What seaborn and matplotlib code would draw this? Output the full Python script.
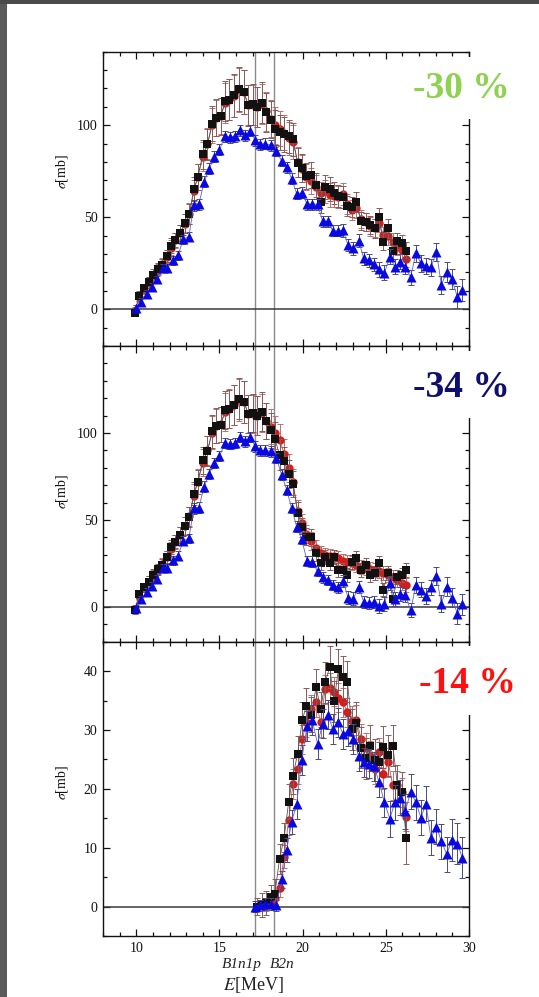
import numpy as np
import pandas as pd
import matplotlib
matplotlib.use("Agg")
import matplotlib.pyplot as plt
import seaborn as sns
from matplotlib.patches import Rectangle
from matplotlib.ticker import MultipleLocator, FixedLocator

sns.set_theme(style="white")
plt.rcParams["font.family"] = ["Liberation Serif", "DejaVu Serif"]
plt.rcParams["mathtext.fontset"] = "stix"

# ---------------- data ----------------
# energy grid of the measured (squares / circles) and calculated (triangles) points, MeV
E_blk = [9.92, 10.18, 10.46, 10.75, 10.99, 11.29, 11.55, 11.83, 12.07, 12.35,
         12.63, 12.93, 13.19, 13.46, 13.70, 14.00, 14.28, 14.56, 14.78, 15.08,
         15.34, 15.60, 15.90, 16.19, 16.47, 16.73, 17.02, 17.27, 17.53, 17.80,
         18.07, 18.33, 18.61, 18.89, 19.16, 19.42, 19.70, 19.98, 20.22, 20.52,
         20.81, 21.08, 21.35, 21.63, 21.89, 22.15, 22.43, 22.69, 22.98, 23.23,
         23.52, 23.78, 24.06, 24.32, 24.58, 24.84, 25.14, 25.42, 25.70, 25.96, 26.23]
E_blu = [9.98, 10.28, 10.66, 10.96, 11.27, 11.59, 11.87, 12.19, 12.51, 12.83,
         13.16, 13.46, 13.76, 14.08, 14.38, 14.70, 15.00, 15.34, 15.64, 15.95,
         16.25, 16.55, 16.85, 17.15, 17.45, 17.75, 18.10, 18.42, 18.74, 19.04,
         19.34, 19.64, 19.94, 20.27, 20.57, 20.90, 21.20, 21.51, 21.81, 22.13,
         22.43, 22.73, 23.05, 23.37, 23.67, 24.00, 24.30, 24.60, 24.92, 25.24,
         25.54, 25.87, 26.17, 26.49, 26.81, 27.11, 27.41, 27.71, 28.04, 28.34,
         28.66, 28.96, 29.30, 29.60]

# panel 1: total photoneutron cross section
blk_1 = [-1.8, 7.2, 11.4, 14.6, 18.6, 21.9, 24.0, 28.9, 34.5, 37.6,
         41.5, 46.6, 51.7, 65.2, 71.9, 84.2, 89.6, 100.9, 104.1, 104.8,
         113.1, 113.9, 116.2, 119.8, 118.0, 110.8, 111.3, 110.0, 112.3, 107.0,
         103.0, 98.2, 96.3, 95.0, 94.1, 92.4, 79.7, 76.8, 72.3, 72.8,
         67.4, 58.4, 66.5, 65.6, 63.2, 61.4, 61.1, 56.2, 55.6, 58.4,
         48.0, 47.5, 45.7, 43.9, 50.2, 36.7, 43.9, 31.8, 37.0, 36.1, 31.8]
red_1 = [-1.0, 6.5, 11.0, 14.5, 18.0, 21.5, 24.5, 28.5, 33.5, 37.5,
         41.5, 46.5, 52.0, 64.0, 72.0, 83.0, 90.0, 100.0, 104.0, 105.0,
         112.0, 114.0, 116.0, 119.0, 118.0, 111.0, 111.0, 110.0, 111.5, 107.5,
         103.6, 100.0, 98.2, 96.0, 93.0, 90.9, 80.0, 76.5, 72.0, 69.8,
         66.5, 63.0, 64.0, 62.0, 61.5, 61.0, 62.5, 57.0, 53.8, 55.0,
         49.0, 47.5, 45.0, 44.0, 47.0, 40.3, 40.0, 36.7, 34.0, 32.0, 27.3]
blu_1 = [0.5, 4.1, 8.3, 12.3, 16.3, 22.6, 22.6, 26.7, 29.4, 38.1,
         39.4, 56.6, 57.1, 69.2, 76.5, 82.8, 86.8, 94.1, 93.6, 94.1,
         97.4, 94.5, 97.0, 91.8, 89.8, 90.0, 89.1, 86.1, 80.6, 77.3,
         71.0, 62.9, 63.2, 57.1, 57.1, 57.1, 47.9, 47.9, 42.6, 42.6,
         43.0, 34.9, 33.1, 37.2, 27.7, 26.7, 24.5, 21.7, 19.8, 28.5,
         23.1, 25.8, 23.1, 17.4, 30.4, 24.9, 23.5, 22.8, 31.2, 13.2,
         20.4, 16.4, 6.8, 10.5]

# panel 2: (g,1n) cross section
blk_2 = [-1.8, 7.2, 11.4, 14.6, 18.6, 21.9, 24.0, 28.9, 34.5, 37.6,
         41.5, 46.6, 51.7, 65.2, 71.9, 84.2, 89.6, 100.9, 104.1, 104.8,
         113.1, 113.9, 116.2, 119.8, 118.0, 110.8, 111.3, 110.0, 112.3, 106.8,
         101.6, 96.6, 87.5, 83.7, 76.6, 70.8, 54.2, 45.8, 40.4, 40.0,
         30.8, 25.4, 28.9, 25.0, 28.5, 21.2, 21.2, 18.3, 26.0, 27.9,
         21.2, 24.1, 18.3, 19.3, 25.0, 10.0, 19.3, 4.8, 17.0, 18.3, 21.2]
red_2 = [-1.0, 6.5, 11.0, 14.5, 18.0, 21.5, 24.5, 28.5, 33.5, 37.5,
         41.5, 46.5, 52.0, 64.0, 72.0, 83.0, 90.0, 100.0, 104.0, 105.0,
         112.0, 114.0, 116.0, 119.0, 118.0, 111.0, 111.0, 110.0, 111.5, 107.0,
         103.5, 100.0, 96.2, 88.0, 79.9, 71.6, 55.4, 48.1, 42.0, 38.0,
         33.7, 31.0, 29.8, 29.5, 29.0, 28.0, 26.5, 26.0, 25.0, 24.0,
         23.1, 22.5, 21.8, 21.2, 20.5, 19.3, 18.5, 17.0, 15.5, 14.0, 12.5]
blu_2 = [-0.9, 4.3, 8.7, 12.3, 16.3, 22.6, 22.6, 26.7, 29.4, 38.1,
         39.4, 56.6, 57.1, 69.2, 76.5, 82.8, 86.8, 94.1, 93.6, 94.1,
         97.7, 95.2, 97.7, 92.3, 90.0, 90.0, 89.4, 85.6, 76.0, 67.3,
         56.8, 46.2, 38.9, 26.5, 26.0, 20.5, 17.0, 15.4, 12.5, 11.2,
         15.0, 5.4, 4.8, 11.5, 2.9, 2.3, 2.9, 0.6, 1.6, 13.5,
         4.8, 7.3, 6.7, -1.9, 12.5, 10.0, 6.2, 11.2, 17.7, 1.9,
         11.5, 5.4, -3.8, 1.6]

# panel 3: (g,2n) cross section
E_blk_3 = E_blk[27:]
E_red_3 = E_blk[29:]
E_blu_3 = E_blu[23:]
blk_3 = [0.0, 0.3, 0.6, 1.7, 2.1, 8.1, 11.7, 17.8, 22.2, 26.0,
         31.7, 34.1, 32.6, 37.3, 33.5, 38.1, 40.7, 34.9, 40.3, 39.0,
         38.2, 30.1, 31.2, 27.0, 25.2, 27.3, 24.9, 24.5, 27.1, 25.7,
         27.3, 20.6, 19.4, 11.7]
red_3 = [0.2, 0.8, 1.5, 3.2, 8.5, 14.7, 20.8, 23.4, 28.4, 31.3,
         33.5, 34.7, 31.3, 36.9, 37.2, 36.5, 35.5, 34.7, 33.0, 31.5,
         31.7, 28.5, 27.0, 25.6, 23.4, 26.2, 22.5, 24.5, 20.6, 20.6,
         19.4, 15.3]
blu_3 = [0.0, 0.2, 0.4, 0.4, 0.2, 4.6, 9.6, 14.4, 17.4, 24.9,
         30.7, 31.7, 27.6, 31.1, 32.6, 30.2, 31.3, 29.3, 29.8, 28.5,
         25.5, 24.5, 24.3, 23.8, 21.1, 17.7, 14.9, 17.7, 18.5, 16.2,
         19.5, 17.7, 15.1, 17.5, 11.7, 13.6, 11.1, 8.9, 11.3, 10.7, 8.3]

# uncertainties
err_blk_1 = [2, 2.5, 2.5, 3, 3, 3, 3.5, 3.5, 4, 4,
             4.5, 5, 5.5, 6.5, 7, 8, 8.5, 9.5, 10, 10,
             11, 11, 11.5, 12, 12, 11, 11, 11, 11, 10.5,
             10, 10, 9.5, 9.5, 9, 9, 8, 7.5, 7, 7,
             6.5, 6, 6.5, 6.5, 6, 6, 6, 5.5, 5.5, 5.5,
             5, 5, 5, 5, 5, 4.5, 5, 4.5, 4.5, 4.5, 4.5]
err_blk_2 = [2, 2.5, 2.5, 3, 3, 3, 3.5, 3.5, 4, 4,
             4.5, 5, 5.5, 6.5, 7, 8, 8.5, 9.5, 10, 10,
             11, 11, 11.5, 12, 12, 11, 11, 11, 11, 10.5,
             10, 9.5, 9, 8.5, 8, 7.5, 6, 5.5, 5, 5,
             4.5, 4, 4, 4, 4, 4, 4, 4, 4, 4,
             4, 4, 4, 4, 4, 4, 4, 4, 4, 4, 4]
err_blu = [2, 2, 2, 2, 2, 2, 2, 2.5, 2.5, 2.5,
           2.5, 3, 3, 3, 3, 3, 3, 3, 3, 3,
           3, 3, 3, 3, 3, 3, 3, 3, 3, 3,
           3, 3, 3, 3, 3, 3, 3, 3, 3, 3,
           3.5, 3.5, 3.5, 3.5, 3.5, 3.5, 3.5, 4, 4, 4,
           4, 4, 4, 4, 4.5, 4.5, 4.5, 4.5, 5, 5,
           5.5, 5.5, 6, 6]
err_blk_3 = [1.5, 2, 2, 2, 2.5, 2.5, 2.5, 3, 3, 3,
             3, 3, 3, 3, 3, 3.5, 3.5, 3.5, 3.5, 3.5,
             3.5, 3.5, 3.5, 3.5, 3.5, 3.5, 3.5, 3.5, 3.5, 3.5,
             3.5, 3.5, 3.5, 4.5]
err_red_3 = [1, 1, 1, 1.5, 2, 2.5, 2.5, 2.5, 2.5, 2.5,
             2.5, 2.5, 2.5, 2.5, 2.5, 2.5, 2.5, 2.5, 2.5, 2.5,
             2.5, 2.5, 2.5, 2.5, 2.5, 2.5, 2.5, 2.5, 2.5, 2.5,
             2.5, 2.5]
err_blu_3 = [1, 1, 1, 1, 1, 1.5, 2, 2, 2.5, 2.5,
             2.5, 2.5, 2.5, 2.5, 2.5, 2.5, 2.5, 2.5, 2.5, 2.5,
             2.5, 2.5, 2.5, 2.5, 2.5, 2.5, 3, 3, 3, 3,
             3, 3, 3, 3, 3, 3, 3, 3, 3.5, 3.5, 3.5]

thresholds = [17.15, 18.25]           # B1n1p, B2n
reductions = ["-30 %", "-34 %", "-14 %"]
reduction_colors = ["#8fd150", "#0f0f6e", "#ff1010"]
ytick_values = [[0, 50, 100], [0, 50, 100], [0, 10, 20, 30, 40]]
xtick_values = [10, 15, 20, 25, 30]

# ---------------- figure ----------------
W, H = 539, 997
fig = plt.figure(figsize=(W / 100, H / 100), dpi=100)
fig.patch.set_facecolor("white")

panel_px = [(51.7, 346.0), (346.0, 641.7), (641.7, 936.0)]
ylims = [(-20, 140), (-20, 150), (-5, 45)]
yminor = [10, 10, 5]

C_BLK, C_RED, C_BLU = "#111111", "#d41c1c", "#0a0ae0"
E_BLK, E_RED, E_BLU = "#8a5a5a", "#c07070", "#4a4a80"
L_BLK, L_RED, L_BLU = "#555555", "#c85050", "#5a64c8"


def series(ax, E, v, err, color, ecolor, lcolor, marker, ms, z):
    df = pd.DataFrame({"E": E, "sigma": v})
    ax.errorbar(df["E"], df["sigma"], yerr=err, fmt="none", ecolor=ecolor,
                elinewidth=0.7, capsize=2.3, capthick=0.7, zorder=z)
    sns.lineplot(data=df, x="E", y="sigma", ax=ax, color=lcolor, lw=0.6,
                 estimator=None, sort=False, zorder=z + 0.2)
    sns.scatterplot(data=df, x="E", y="sigma", ax=ax, color=color,
                    marker=marker, s=ms ** 2, linewidth=0, zorder=z + 0.5)


panels = [
    (blk_1, err_blk_1, E_blk, red_1, err_blk_1, E_blk, blu_1, err_blu, E_blu),
    (blk_2, err_blk_2, E_blk, red_2, err_blk_2, E_blk, blu_2, err_blu, E_blu),
    (blk_3, err_blk_3, E_blk_3, red_3, err_red_3, E_red_3, blu_3, err_blu_3, E_blu_3),
]

for i, (top, bot) in enumerate(panel_px):
    ax = fig.add_axes([103 / W, 1 - bot / H, (469 - 103) / W, (bot - top) / H])
    bk, ebk, Ebk, rd, erd, Erd, bl, ebl, Ebl = panels[i]

    for xv in thresholds:
        ax.axvline(xv, color="#8a8a8a", lw=1.0, zorder=1)
    ax.axhline(0, color="#3a3a3a", lw=1.1, zorder=1)

    series(ax, Erd, rd, erd, C_RED, E_RED, L_RED, "o", 6.0, 3)
    series(ax, Ebk, bk, ebk, C_BLK, E_BLK, L_BLK, "s", 6.3, 4)
    series(ax, Ebl, bl, ebl, C_BLU, E_BLU, L_BLU, "^", 7.2, 5)

    ax.set_xlim(8, 30)
    ax.set_ylim(*ylims[i])
    ax.xaxis.set_major_locator(FixedLocator(xtick_values))
    ax.xaxis.set_minor_locator(MultipleLocator(1))
    ax.yaxis.set_major_locator(FixedLocator(ytick_values[i]))
    ax.yaxis.set_minor_locator(MultipleLocator(yminor[i]))
    ax.tick_params(which="both", direction="in", top=True, right=True,
                   bottom=True, left=True, colors="#111111", width=0.9,
                   labelsize=10, pad=4)
    ax.tick_params(which="major", length=5)
    ax.tick_params(which="minor", length=2.8)
    ax.set_xlabel("")
    ax.set_ylabel("")
    for s in ax.spines.values():
        s.set_color("#111111")
        s.set_linewidth(1.0)
    if i < 2:
        ax.tick_params(labelbottom=False)

# axis titles
for yc in (172, 492, 783):
    fig.text(62 / W, 1 - yc / H, r"$\sigma$[mb]", rotation=90, ha="center",
             va="center", fontsize=10, color="#111111")
fig.text(242 / W, 1 - 964 / H, "B1n1p", style="italic", ha="center",
         va="center", fontsize=11, color="#222222")
fig.text(282 / W, 1 - 964 / H, "B2n", style="italic", ha="center",
         va="center", fontsize=11, color="#222222")
fig.text(253 / W, 1 - 985 / H, r"$E$[MeV]", ha="center", va="center",
         fontsize=13, color="#222222")

# white patches behind the reduction labels, then the labels themselves
boxes = [(57, 119), (351, 418), (646, 715)]
centers = [(461, 88), (461, 387), (467, 683)]
for (y0, y1), (cx, cy), txt, col in zip(boxes, centers, reductions, reduction_colors):
    fig.add_artist(Rectangle((458 / W, 1 - y1 / H), (W - 458) / W, (y1 - y0) / H,
                             transform=fig.transFigure, facecolor="white",
                             edgecolor="none", zorder=6))
    fig.text(cx / W, 1 - cy / H, txt, ha="center", va="center", fontsize=27,
             fontweight="bold", color=col, zorder=7)

# window frame on the left and top edges
fig.add_artist(Rectangle((0, 0), 7 / W, 1, transform=fig.transFigure,
                         facecolor="#5a5a5a", edgecolor="none", zorder=8))
fig.add_artist(Rectangle((0, 1 - 4 / H), 1, 4 / H, transform=fig.transFigure,
                         facecolor="#4a4a4a", edgecolor="none", zorder=8))

fig.savefig("out.png", dpi=100)
